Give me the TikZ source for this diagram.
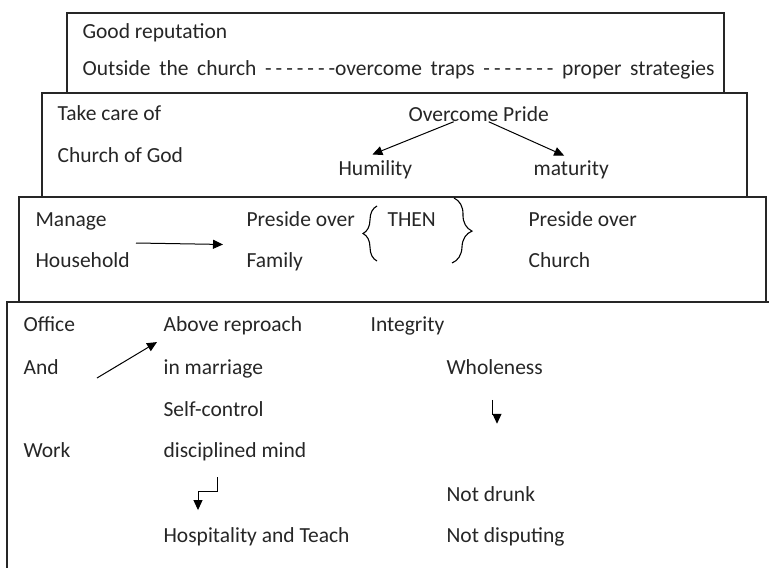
\documentclass[tikz,border=0pt]{standalone}
\usepackage{fontspec}
\setmainfont{Carlito}[Ligatures=TeXOff]
\usetikzlibrary{
  arrows.meta,
  decorations.pathreplacing
}
\newcommand\hy{-\kern4pt}

\begin{document}
\begin{tikzpicture}[x=1pt,y=-1pt,line width=1.2pt,
  txt/.style={anchor=base west,inner sep=0pt,text=black!85,
    font=\fontsize{21.5}{25}\selectfont},
  tip/.style={-{Triangle[length=10pt,width=9pt]},line width=1pt},
  layer/.style={draw=black!85},
  curly/.style={decorate,line width=1.1pt,decoration={brace,amplitude=#1}}]
\useasboundingbox (0,0) rectangle (769,568);
% the four layers
\draw[layer] (67,13) rectangle (724,93);
\draw[layer] (42,93) rectangle (747,197);
\draw[layer] (19,197) rectangle (766,302);
\draw[layer] (769,302) -- (7,302) -- (7,568);

% top layer
\node[txt] (goodrep) at (82,38) {Good reputation};
\node[txt] (outside) at (82,75) {\makebox[632pt][s]{Outside the church
  \hy\hy\hy\hy\hy\hy-overcome traps \hy\hy\hy\hy\hy\hy-\ proper strategies}};

% second layer
\node[txt] (takecare) at (57,120) {Take care of};
\node[txt] (churchgod) at (57,162) {Church of God};
\node[txt] (pride) at (408,121) {Overcome Pride};
\node[txt] (humility) at (338,175) {Humility};
\node[txt] (maturity) at (533,175) {maturity};
\draw[tip] ([xshift=-25pt]pride.south) -- ([shift={(-3pt,5pt)}]humility.north);
\draw[tip] ([xshift=10pt]pride.south) -- ([shift={(-7pt,4pt)}]maturity.north);

% third layer
\node[txt] (manage) at (35,226) {Manage};
\node[txt] (household) at (35,267) {Household};
\node[txt] (preside) at (246,226) {Preside over};
\node[txt] (family) at (246,267) {Family};
\node[txt] (then) at (387,226) {THEN};
\node[txt] (presidech) at (528,226) {Preside over};
\node[txt] (church) at (528,267) {Church};
\coordinate (hh-tail) at (136,243);
\draw[tip] (hh-tail) -- ([shift={(-23pt,7pt)}]family.north west);
\draw[curly=14pt] (377,261) -- (377,206);
\draw[curly=19pt] (454,198) -- (452,263);

% bottom layer
\node[txt] (office) at (23,331) {Office};
\node[txt] (and) at (23,374) {And};
\node[txt] (work) at (23,457) {Work};
\node[txt] (reproach) at (163,331) {Above reproach};
\node[txt] (marriage) at (163,374) {in marriage};
\node[txt] (selfctrl) at (163,416) {Self-control};
\node[txt] (mind) at (163,457) {disciplined mind};
\node[txt] (hosp) at (163,542) {Hospitality and Teach};
\node[txt] (integrity) at (370,331) {Integrity};
\node[txt] (whole) at (446,374) {Wholeness};
\node[txt] (drunk) at (446,501) {Not drunk};
\node[txt] (dispute) at (446,542) {Not disputing};
\coordinate (and-tail) at (97,378);
\draw[tip] (and-tail) -- ([shift={(-6pt,-7pt)}]reproach.south west);
\draw[tip] ([shift={(46pt,-25pt)}]whole.south west) -- ++(0,15) -- ++(5,0) -- ++(0,9);
\draw[tip] ([shift={(54pt,-16pt)}]mind.south west) -- ++(0,14) -- ++(-19,0) -- ++(0,19);
\end{tikzpicture}
\end{document}
